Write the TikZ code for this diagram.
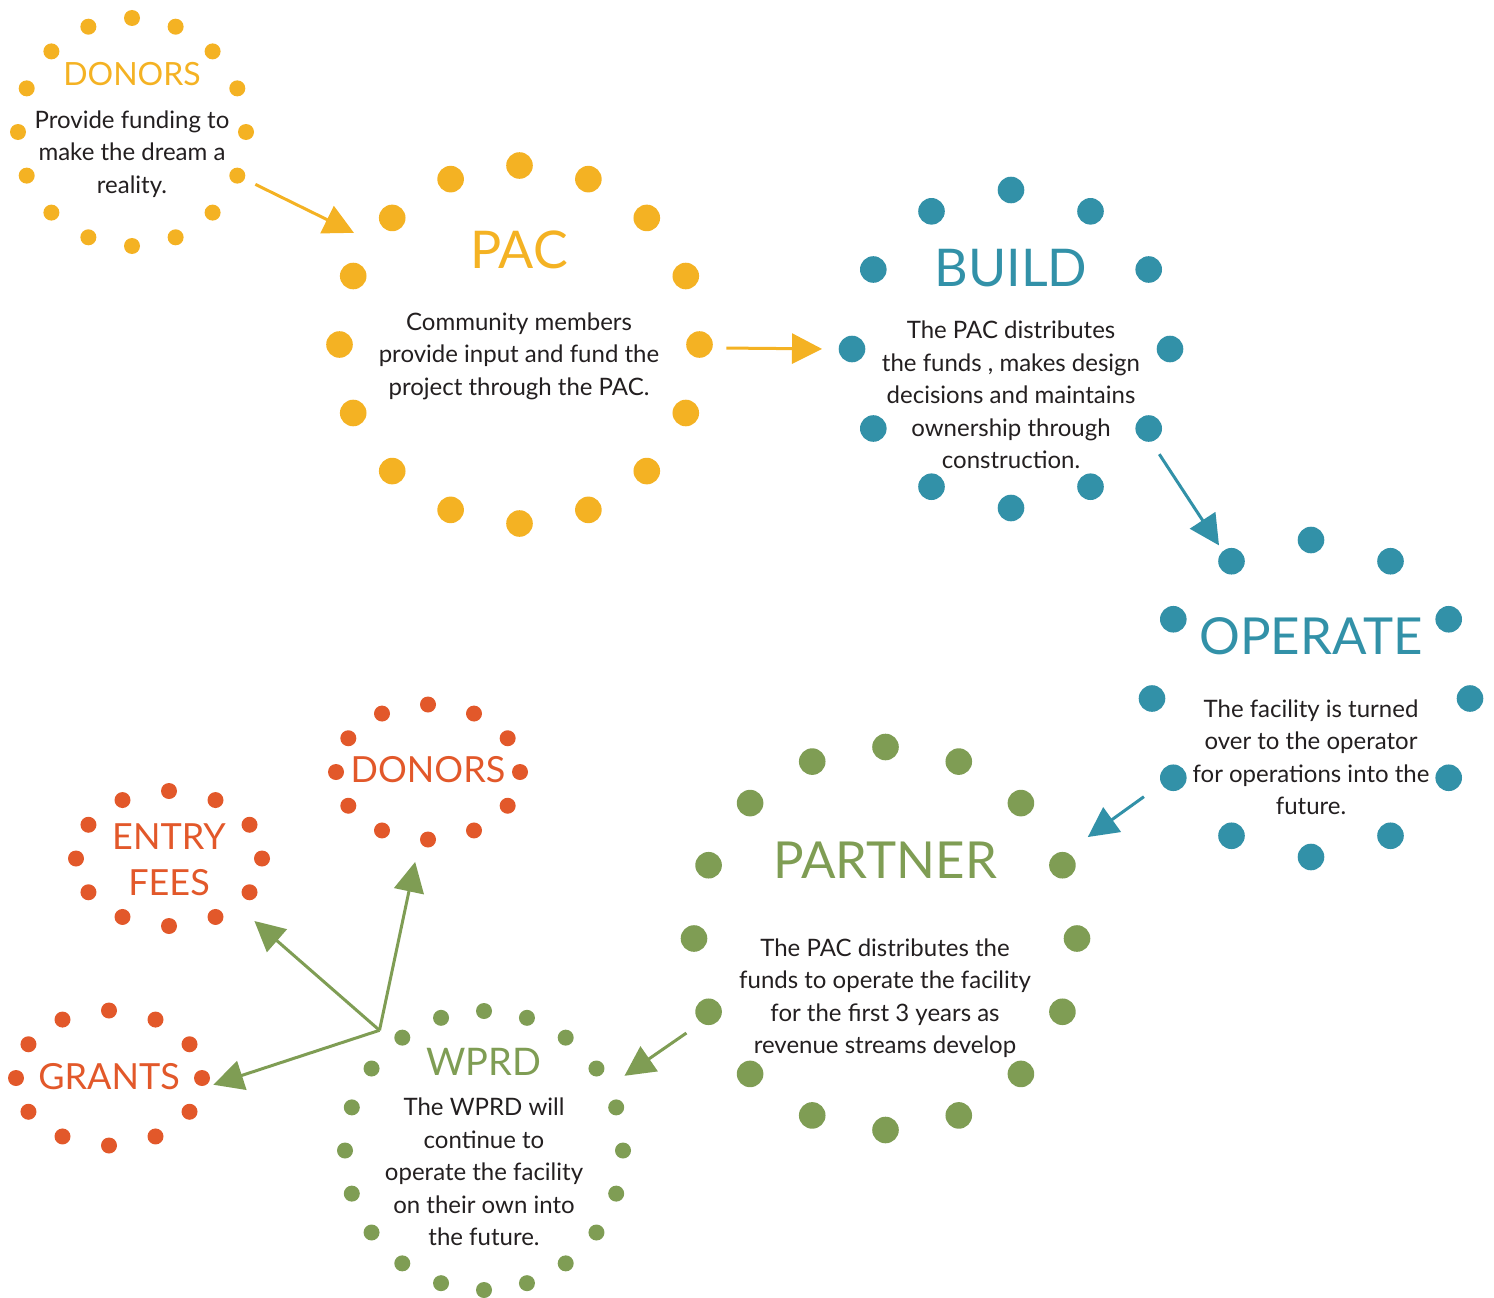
\documentclass[tikz,border=0pt]{standalone}
\usepackage{fontspec}
\setmainfont{Lato}
\usetikzlibrary{arrows.meta,calc,shapes.geometric}
\definecolor{ringgold}{RGB}{244,178,35}
\definecolor{ringteal}{RGB}{50,145,168}
\definecolor{ringgreen}{RGB}{127,157,84}
\definecolor{ringorange}{RGB}{226,88,42}
\definecolor{inkdark}{RGB}{35,31,32}

\begin{document}
\begin{tikzpicture}[x=1pt, y=-1pt, >={Triangle[length=30pt,width=30pt]},
    ring/.style={ellipse, inner sep=0pt, outer sep=20pt},
    flow/.style={->, line width=3pt},
    head/.style={inner sep=0pt},
    body/.style={text=inkdark, align=center, inner sep=0pt, font=\fontsize{24}{32.5}\selectfont}]
    \useasboundingbox (0,0) rectangle (1494,1298);

    % Rings of dots
    \foreach \nm/\cx/\cy/\rx/\ry/\n/\r/\col in {
        donorsy/132/132/114/114/16/8/ringgold,
        pac/519.5/344.5/180/179/16/13.3/ringgold,
        build/1011/349/159/159/12/13.3/ringteal,
        operate/1311/698.5/159/158.5/12/13.3/ringteal,
        partner/885.5/938.5/191.5/191.5/16/13.3/ringgreen,
        wprd/484/1150.5/139/139.5/20/8/ringgreen,
        donorso/428/772/92/67.5/12/8/ringorange,
        entry/169/858.5/93/67.5/12/8/ringorange,
        grants/109/1078/93/67.5/12/8/ringorange} {
        \node[ring, minimum width=2*\rx pt, minimum height=2*\ry pt] (\nm) at (\cx,\cy) {};
        \foreach \k in {1,...,\n}
            \fill[\col] ($(\nm.center)+({90+360*\k/\n}:\rx pt and \ry pt)$) circle (\r pt);
    }

    % Titles
    \node[head, text=ringgold, font=\fontsize{32}{32}\selectfont] (donorsyT) at (132,74) {DONORS};
    \node[head, text=ringgold, font=\fontsize{52}{52}\selectfont] (pacT) at (519,250) {PAC};
    \node[head, text=ringteal, font=\fontsize{52}{52}\selectfont] (buildT) at (1011,268) {BUILD};
    \node[head, text=ringteal, font=\fontsize{51}{51}\selectfont] (operateT) at (1311,636) {OPERATE};
    \node[head, text=ringgreen, font=\fontsize{51}{51}\selectfont] (partnerT) at (885,860) {PARTNER};
    \node[head, text=ringgreen, font=\fontsize{38}{38}\selectfont] (wprdT) at (484,1062) {WPRD};
    \node[head, text=ringorange, font=\fontsize{36}{36}\selectfont] (donorsoT) at (428,770) {DONORS};
    \node[head, text=ringorange, align=center, font=\fontsize{36}{46}\selectfont] (entryT) at (169,860) {ENTRY\\FEES};
    \node[head, text=ringorange, font=\fontsize{36}{36}\selectfont] (grantsT) at (109,1077) {GRANTS};

    % Texts
    \node[body] (donorsyB) at (132,154) {Provide funding to\\make the dream a\\reality.};
    \node[body] (pacB) at (519,356) {Community members\\provide input and fund the\\project through the PAC.};
    \node[body] (buildB) at (1011,395) {The PAC distributes\\the funds , makes design\\decisions and maintains\\ownership through\\construction.};
    \node[body] (operateB) at (1311,757) {The facility is turned\\over to the operator\\for operations into the\\future.};
    \node[body] (partnerB) at (885,998) {The PAC distributes the\\funds to operate the facility\\for the first 3 years as\\revenue streams develop};
    \node[body] (wprdB) at (484,1172) {The WPRD will\\continue to\\operate the facility\\on their own into\\the future.};

    % Arrows
    \draw[flow, ringgold] (donorsy.-23) -- (pac.146);
    \draw[flow, ringgold, shorten <=7pt, shorten >=10pt] (pac.-1) -- (build.180);
    \draw[flow, ringteal, shorten <=3pt] (build.-35) -- (operate.121);
    \draw[flow, ringteal, shorten <=15pt, shorten >=15pt] (operate.210) -- (partner.26);
    \draw[flow, ringgreen, shorten <=9pt] (partner.205) -- (wprd.28);
    \coordinate (fork) at (wprd.131);
    \draw[flow, ringgreen, shorten >=4pt] (fork) -- (entry.-36);
    \draw[flow, ringgreen, shorten >=3pt] (fork) -- (donorso.-98);
    \draw[flow, ringgreen, shorten >=-9pt] (fork) -- (grants.-2);
\end{tikzpicture}
\end{document}
